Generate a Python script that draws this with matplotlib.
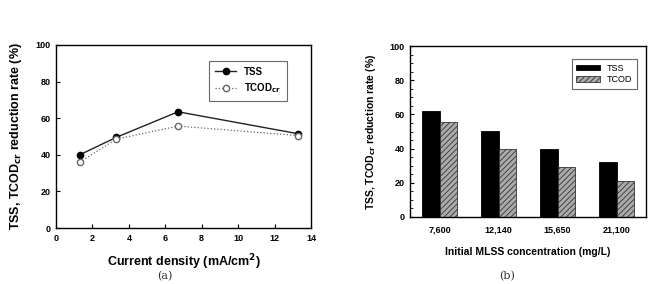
import numpy as np
import matplotlib.pyplot as plt
import matplotlib as mpl
from matplotlib.ticker import MultipleLocator

# --- dados ---
current_density = [1.3, 3.3, 6.7, 13.3]
tss_a = [40.0, 49.5, 63.5, 51.5]
tcod_a = [36.0, 48.5, 55.7, 50.5]

mlss_labels = ["7,600", "12,140", "15,650", "21,100"]
tss_b = [62.0, 50.5, 40.0, 32.0]
tcod_b = [55.5, 40.0, 29.0, 21.0]

mpl.rcParams.update({
    "font.family": "Liberation Sans",
    "font.weight": "bold",
    "axes.linewidth": 1.0,
    "hatch.linewidth": 0.6,
    "hatch.color": "#333333",
})

fig = plt.figure(figsize=(6.52, 2.84), dpi=100)
W, H = 652, 284
axa = fig.add_axes([56 / W, 1 - 228 / H, 255 / W, 183 / H])
axb = fig.add_axes([410 / W, 1 - 217 / H, 236 / W, 171 / H])

# --- (a) linhas ---
axa.plot(current_density, tss_a, "-", color="#222222", lw=1.0,
         marker="o", ms=4.5, mfc="black", mec="black", label="TSS")
axa.plot(current_density, tcod_a, ":", color="#666666", lw=0.9,
         marker="o", ms=4.5, mfc="white", mec="#666666", label="TCOD$_{\\mathbf{cr}}$")
axa.set_xlim(0, 14)
axa.set_ylim(0, 100)
axa.xaxis.set_major_locator(MultipleLocator(2))
axa.yaxis.set_major_locator(MultipleLocator(20))
axa.tick_params(direction="in", length=3, width=0.8, labelsize=6.5, pad=4)
axa.set_xlabel("Current density (mA/cm$^\\mathbf{2}$)", fontsize=9, fontweight="bold", labelpad=7)
axa.set_ylabel("TSS, TCOD$_{\\mathbf{cr}}$ reduction rate (%)", fontsize=9, fontweight="bold", labelpad=8)
leg = axa.legend(loc="upper right", bbox_to_anchor=(0.925, 0.94), fontsize=7, frameon=True,
                 fancybox=False, edgecolor="#444444", handlelength=2.2, borderpad=0.6,
                 labelspacing=0.5)
leg.get_frame().set_linewidth(0.8)

# --- (b) barras ---
x = np.arange(len(mlss_labels))
bw = 0.305
axb.bar(x - bw / 2, tss_b, bw, color="black", edgecolor="black", lw=0.6, label="TSS")
axb.bar(x + bw / 2, tcod_b, bw, color="#aaaaaa", edgecolor="#333333", lw=0.6,
        hatch="//////", label="TCOD")
axb.set_xlim(-0.5, 3.5)
axb.set_ylim(0, 100)
axb.set_xticks(x)
axb.set_xticklabels(mlss_labels)
axb.yaxis.set_major_locator(MultipleLocator(20))
axb.yaxis.set_minor_locator(MultipleLocator(5))
axb.tick_params(axis="x", length=0, labelsize=6.5, pad=6)
axb.tick_params(axis="y", direction="in", length=3, width=0.8, labelsize=6.5, pad=4)
axb.tick_params(axis="y", which="minor", direction="in", length=2, width=0.6)
axb.set_xlabel("Initial MLSS concentration (mg/L)", fontsize=7.5, fontweight="bold", labelpad=9)
axb.set_ylabel("TSS, TCOD$_{\\mathbf{cr}}$ reduction rate (%)", fontsize=7.5, fontweight="bold", labelpad=8)
legb = axb.legend(loc="upper right", bbox_to_anchor=(0.98, 0.95), fontsize=6.5, frameon=True,
                  fancybox=False, edgecolor="#444444", handlelength=2.6, handleheight=0.6,
                  borderpad=0.5, labelspacing=0.3)
legb.get_frame().set_linewidth(0.8)
for t in legb.get_texts():
    t.set_fontweight("normal")

# legendas das figuras
fig.text(165 / W, 1 - 276 / H, "(a)", ha="center", va="center", fontsize=8,
         fontweight="normal", family="DejaVu Serif", color="#333333")
fig.text(507 / W, 1 - 276 / H, "(b)", ha="center", va="center", fontsize=8,
         fontweight="normal", family="DejaVu Serif", color="#333333")

fig.savefig("out.png", dpi=100)
